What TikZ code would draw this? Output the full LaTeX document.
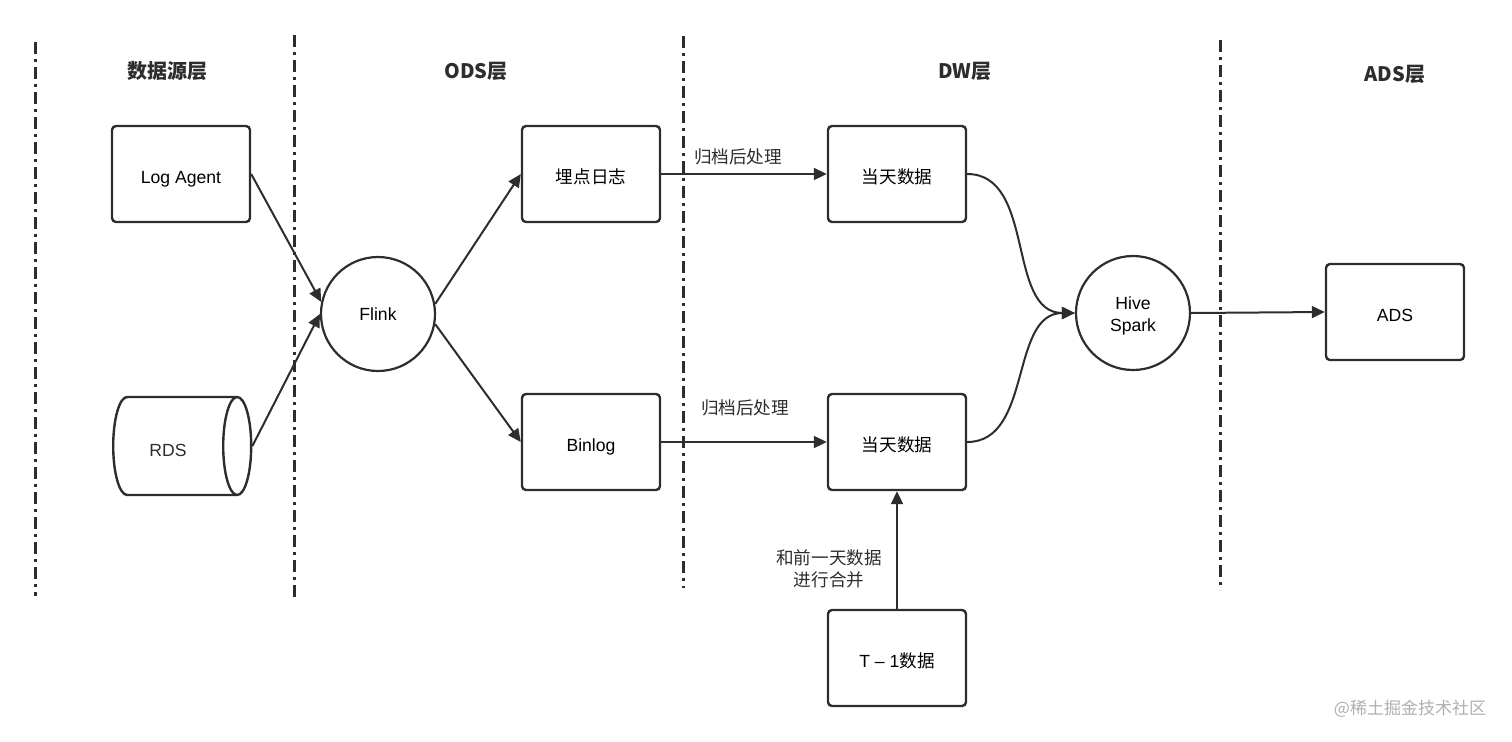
\documentclass[tikz,border=0pt]{standalone}
\usepackage{fontspec}
\setmainfont{Liberation Sans}
\newfontfamily\cjk{Noto Sans CJK SC}
\usepackage{tikz}
\usetikzlibrary{arrows.meta,shapes.geometric}

\definecolor{ink}{RGB}{45,45,45}
\definecolor{mark}{RGB}{175,175,175}

\begin{document}
\begin{tikzpicture}[x=0.5pt,y=-0.5pt,
  font=\fontsize{8.8pt}{11pt}\selectfont,
  box/.style={draw=ink, line width=1.2pt, rounded corners=2pt, minimum width=69pt, minimum height=48pt, text height=9pt, text depth=0pt},
  engine/.style={draw=ink, line width=1.1pt, circle, minimum size=57pt, inner sep=0pt, align=center},
  store/.style={draw=ink, line width=1.2pt, cylinder, shape aspect=2.1, minimum width=49pt, minimum height=69pt},
  layer/.style={font=\fontsize{10pt}{12pt}\selectfont\cjk\bfseries, text=ink},
  note/.style={text=ink, font=\fontsize{8.8pt}{11pt}\selectfont\cjk},
  border/.style={ink, line width=1.5pt, dash pattern=on 6pt off 2.5pt on 1.5pt off 2.5pt},
  flow/.style={ink, line width=1pt, -{Triangle[length=6.5pt,width=6pt]}}]
\useasboundingbox (0,0) rectangle (1512,741);
% layer borders
\draw[border] (35,42) -- (35,596);
\draw[border] (294,35) -- (294,598);
\draw[border] (683,36) -- (683,588);
\draw[border] (1220,40) -- (1220,590);
% layer titles
\node[layer] (t1) at (167,71) {数据源层};
\node[layer] (t2) at (476,71) {ODS层};
\node[layer] (t3) at (965,71) {DW层};
\node[layer] (t4) at (1395,74) {ADS层};
% nodes
\node[box] (agent) at (181,174) {Log Agent};
\node[store, anchor=west] (rds) at (112,446) {};
\node[text=ink] (rdstext) at (168,450) {RDS};
\node[engine] (flink) at (378,314) {\raisebox{-1.5pt}{Flink}};
\node[box, font=\fontsize{8.8pt}{11pt}\selectfont\cjk] (track) at (591,174) {埋点日志};
\node[box] (binlog) at (591,442) {Binlog};
\node[box, font=\fontsize{8.8pt}{11pt}\selectfont\cjk] (today1) at (897,174) {当天数据};
\node[box, font=\fontsize{8.8pt}{11pt}\selectfont\cjk] (today2) at (897,442) {当天数据};
\node[box] (prev) at (897,658) {T – 1{\cjk 数据}};
\node[engine] (hive) at (1133,313) {\raisebox{-3.5pt}[0pt][0pt]{\parbox{40pt}{\centering Hive\\Spark}}};
\node[box] (ads) at (1395,312) {ADS};
% connectors
\draw[flow] (agent.east) -- (flink.180-12);
\draw[flow] (rds.east) -- (flink.west);
\draw[flow] (flink.10) -- (track.west);
\draw[flow] (flink.-10) -- (binlog.west);
\draw[flow] (track.east) -- (today1.west);
\node[note] (lbl1) at (738,157) {归档后处理};
\draw[flow] (binlog.east) -- (today2.west);
\node[note] (lbl2) at (745,408) {归档后处理};
\draw[flow] (today1.east) to[out=0,in=180] (hive.west);
\draw[flow] (today2.east) to[out=0,in=180] (hive.west);
\draw[flow] (hive.east) -- (ads.west);
\draw[flow] (prev.north) -- (today2.south);
\node[note, align=center] (merge) at (829,569) {和前一天数据\\进行合并};
% watermark
\node[text=mark, font=\fontsize{8.5pt}{10pt}\selectfont\cjk] (wm) at (1410,709) {@稀土掘金技术社区};
\end{tikzpicture}
\end{document}
